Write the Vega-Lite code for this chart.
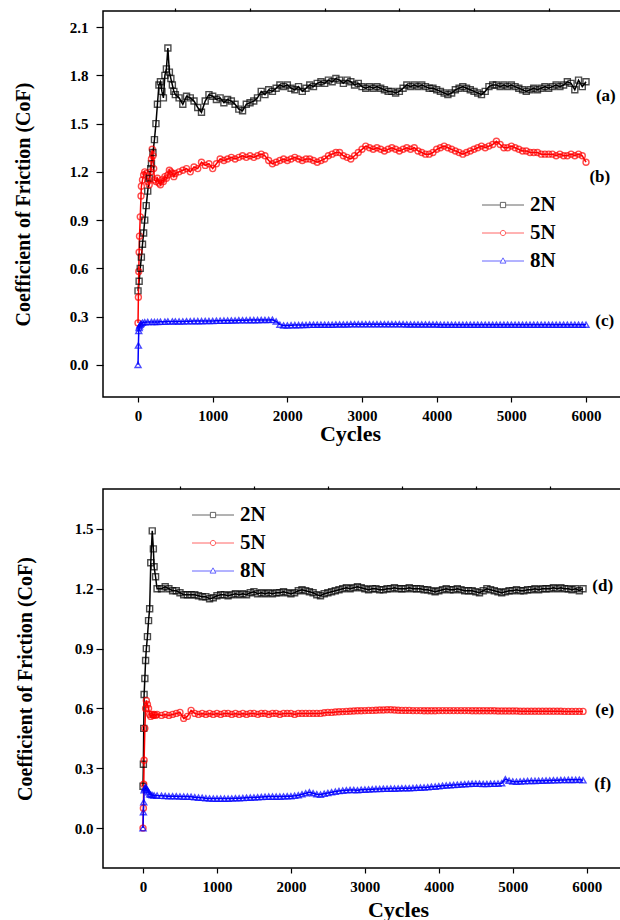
{
  "$schema": "https://vega.github.io/schema/vega-lite/v6.json",
  "padding": {"left": 12, "top": 6, "right": 0, "bottom": 0},
  "spacing": 39,
  "resolve": {"scale": {"opacity": "independent"}, "legend": {"opacity": "independent"}},
  "config": {
    "view": {"stroke": "#000000", "strokeWidth": 1.5},
    "font": "Liberation Serif",
    "axis": {"domain": false, "grid": false, "tickColor": "#000000", "tickWidth": 1.2, "labelFont": "Liberation Serif", "labelFontWeight": "bold", "labelFontSize": 15, "labelColor": "#000000", "titleFont": "Liberation Serif", "titleFontWeight": "bold", "titleColor": "#000000"},
    "legend": {"padding": 0, "labelFont": "Liberation Serif", "labelFontWeight": "bold", "labelFontSize": 21, "labelColor": "#000000", "symbolSize": 441, "labelOffset": 16, "rowPadding": 7, "symbolStrokeWidth": 1, "symbolFillColor": "transparent", "symbolOpacity": 1}
  },
  "datasets": {
    "top": [
      {"x":0,"2N":0.46,"5N":0.26,"8N":0.0},
      {"x":5,"5N":0.42,"8N":0.12},
      {"x":10,"5N":0.58,"8N":0.21},
      {"x":15,"2N":0.52,"5N":0.7,"8N":0.23},
      {"x":20,"5N":0.8,"8N":0.24},
      {"x":30,"2N":0.6,"5N":0.92,"8N":0.25},
      {"x":40,"5N":1.05,"8N":0.255},
      {"x":45,"2N":0.67,"5N":1.11},
      {"x":60,"2N":0.75,"5N":1.15,"8N":0.262},
      {"x":75,"2N":0.82,"5N":1.18},
      {"x":90,"2N":0.9,"5N":1.2,"8N":0.265},
      {"x":110,"2N":0.99,"5N":1.19},
      {"x":130,"2N":1.08,"5N":1.14,"8N":0.266},
      {"x":150,"2N":1.16,"5N":1.12},
      {"x":170,"2N":1.22,"5N":1.2},
      {"x":180,"2N":1.25,"5N":1.28,"8N":0.267},
      {"x":190,"5N":1.34},
      {"x":200,"2N":1.32,"5N":1.3},
      {"x":210,"5N":1.22},
      {"x":220,"2N":1.4,"5N":1.15,"8N":0.266},
      {"x":240,"2N":1.5,"5N":1.14},
      {"x":260,"2N":1.62,"5N":1.16,"8N":0.267},
      {"x":280,"2N":1.74,"5N":1.13},
      {"x":300,"2N":1.76,"5N":1.12,"8N":0.268},
      {"x":320,"2N":1.7,"5N":1.15},
      {"x":340,"2N":1.66,"5N":1.14},
      {"x":360,"2N":1.8,"5N":1.17,"8N":0.268},
      {"x":380,"2N":1.84,"5N":1.16},
      {"x":400,"2N":1.97,"5N":1.18,"8N":0.27},
      {"x":420,"2N":1.82,"5N":1.21},
      {"x":440,"2N":1.78,"5N":1.2},
      {"x":460,"2N":1.74,"5N":1.19,"8N":0.27},
      {"x":480,"2N":1.7,"5N":1.17},
      {"x":500,"2N":1.68,"5N":1.19,"8N":0.27},
      {"x":550,"2N":1.66,"5N":1.2,"8N":0.27},
      {"x":600,"2N":1.62,"5N":1.21,"8N":0.27},
      {"x":650,"2N":1.67,"5N":1.22,"8N":0.271},
      {"x":700,"2N":1.66,"5N":1.2,"8N":0.271},
      {"x":750,"2N":1.64,"5N":1.23,"8N":0.272},
      {"x":800,"2N":1.6,"5N":1.22,"8N":0.272},
      {"x":850,"2N":1.57,"5N":1.26,"8N":0.272},
      {"x":900,"2N":1.64,"5N":1.24,"8N":0.273},
      {"x":950,"2N":1.68,"5N":1.25,"8N":0.273},
      {"x":1000,"2N":1.67,"5N":1.22,"8N":0.273},
      {"x":1050,"2N":1.65,"5N":1.25,"8N":0.274},
      {"x":1100,"2N":1.66,"5N":1.28,"8N":0.274},
      {"x":1150,"2N":1.63,"5N":1.27,"8N":0.275},
      {"x":1200,"2N":1.65,"5N":1.28,"8N":0.275},
      {"x":1250,"2N":1.64,"5N":1.29,"8N":0.276},
      {"x":1300,"2N":1.62,"5N":1.28,"8N":0.276},
      {"x":1350,"2N":1.59,"5N":1.29,"8N":0.277},
      {"x":1400,"2N":1.58,"5N":1.3,"8N":0.277},
      {"x":1450,"2N":1.62,"5N":1.29,"8N":0.277},
      {"x":1500,"2N":1.63,"5N":1.3,"8N":0.278},
      {"x":1550,"2N":1.64,"5N":1.29,"8N":0.278},
      {"x":1600,"2N":1.66,"5N":1.3,"8N":0.278},
      {"x":1650,"2N":1.7,"5N":1.31,"8N":0.279},
      {"x":1700,"2N":1.68,"5N":1.3,"8N":0.279},
      {"x":1750,"2N":1.71,"5N":1.27,"8N":0.279},
      {"x":1800,"2N":1.7,"5N":1.25,"8N":0.28},
      {"x":1850,"2N":1.72,"5N":1.26,"8N":0.27},
      {"x":1900,"2N":1.74,"5N":1.27,"8N":0.25},
      {"x":1950,"2N":1.73,"5N":1.28,"8N":0.245},
      {"x":2000,"2N":1.74,"5N":1.27,"8N":0.245},
      {"x":2050,"2N":1.72,"5N":1.28,"8N":0.246},
      {"x":2100,"2N":1.71,"5N":1.29,"8N":0.247},
      {"x":2150,"2N":1.73,"5N":1.28,"8N":0.247},
      {"x":2200,"2N":1.7,"5N":1.27,"8N":0.248},
      {"x":2250,"2N":1.72,"5N":1.28,"8N":0.248},
      {"x":2300,"2N":1.74,"5N":1.28,"8N":0.249},
      {"x":2350,"2N":1.73,"5N":1.27,"8N":0.249},
      {"x":2400,"2N":1.75,"5N":1.26,"8N":0.25},
      {"x":2450,"2N":1.76,"5N":1.27,"8N":0.25},
      {"x":2500,"2N":1.75,"5N":1.28,"8N":0.25},
      {"x":2550,"2N":1.77,"5N":1.3,"8N":0.25},
      {"x":2600,"2N":1.76,"5N":1.31,"8N":0.25},
      {"x":2650,"2N":1.78,"5N":1.32,"8N":0.251},
      {"x":2700,"2N":1.77,"5N":1.32,"8N":0.251},
      {"x":2750,"2N":1.75,"5N":1.3,"8N":0.251},
      {"x":2800,"2N":1.77,"5N":1.29,"8N":0.251},
      {"x":2850,"2N":1.76,"5N":1.28,"8N":0.252},
      {"x":2900,"2N":1.74,"5N":1.3,"8N":0.252},
      {"x":2950,"2N":1.75,"5N":1.32,"8N":0.252},
      {"x":3000,"2N":1.73,"5N":1.34,"8N":0.252},
      {"x":3050,"2N":1.72,"5N":1.36,"8N":0.252},
      {"x":3100,"2N":1.73,"5N":1.35,"8N":0.252},
      {"x":3150,"2N":1.72,"5N":1.34,"8N":0.252},
      {"x":3200,"2N":1.73,"5N":1.35,"8N":0.252},
      {"x":3250,"2N":1.72,"5N":1.34,"8N":0.252},
      {"x":3300,"2N":1.71,"5N":1.33,"8N":0.252},
      {"x":3350,"2N":1.7,"5N":1.34,"8N":0.252},
      {"x":3400,"2N":1.7,"5N":1.35,"8N":0.252},
      {"x":3450,"2N":1.69,"5N":1.34,"8N":0.252},
      {"x":3500,"2N":1.7,"5N":1.33,"8N":0.252},
      {"x":3550,"2N":1.72,"5N":1.34,"8N":0.252},
      {"x":3600,"2N":1.74,"5N":1.35,"8N":0.251},
      {"x":3650,"2N":1.73,"5N":1.34,"8N":0.251},
      {"x":3700,"2N":1.74,"5N":1.35,"8N":0.251},
      {"x":3750,"2N":1.73,"5N":1.33,"8N":0.251},
      {"x":3800,"2N":1.74,"5N":1.32,"8N":0.251},
      {"x":3850,"2N":1.73,"5N":1.31,"8N":0.251},
      {"x":3900,"2N":1.72,"5N":1.31,"8N":0.251},
      {"x":3950,"2N":1.72,"5N":1.32,"8N":0.251},
      {"x":4000,"2N":1.71,"5N":1.34,"8N":0.251},
      {"x":4050,"2N":1.7,"5N":1.35,"8N":0.25},
      {"x":4100,"2N":1.69,"5N":1.36,"8N":0.25},
      {"x":4150,"2N":1.68,"5N":1.35,"8N":0.25},
      {"x":4200,"2N":1.69,"5N":1.34,"8N":0.25},
      {"x":4250,"2N":1.71,"5N":1.33,"8N":0.25},
      {"x":4300,"2N":1.72,"5N":1.32,"8N":0.25},
      {"x":4350,"2N":1.73,"5N":1.31,"8N":0.25},
      {"x":4400,"2N":1.72,"5N":1.32,"8N":0.25},
      {"x":4450,"2N":1.71,"5N":1.33,"8N":0.25},
      {"x":4500,"2N":1.7,"5N":1.34,"8N":0.25},
      {"x":4550,"2N":1.69,"5N":1.35,"8N":0.25},
      {"x":4600,"2N":1.68,"5N":1.36,"8N":0.25},
      {"x":4650,"2N":1.7,"5N":1.35,"8N":0.25},
      {"x":4700,"2N":1.73,"5N":1.36,"8N":0.25},
      {"x":4750,"2N":1.74,"5N":1.37,"8N":0.25},
      {"x":4800,"2N":1.74,"5N":1.39,"8N":0.25},
      {"x":4850,"2N":1.73,"5N":1.37,"8N":0.25},
      {"x":4900,"2N":1.74,"5N":1.35,"8N":0.25},
      {"x":4950,"2N":1.73,"5N":1.35,"8N":0.25},
      {"x":5000,"2N":1.74,"5N":1.36,"8N":0.25},
      {"x":5050,"2N":1.73,"5N":1.35,"8N":0.25},
      {"x":5100,"2N":1.72,"5N":1.34,"8N":0.25},
      {"x":5150,"2N":1.71,"5N":1.33,"8N":0.25},
      {"x":5200,"2N":1.7,"5N":1.33,"8N":0.25},
      {"x":5250,"2N":1.71,"5N":1.32,"8N":0.25},
      {"x":5300,"2N":1.72,"5N":1.32,"8N":0.25},
      {"x":5350,"2N":1.71,"5N":1.32,"8N":0.25},
      {"x":5400,"2N":1.72,"5N":1.31,"8N":0.25},
      {"x":5450,"2N":1.73,"5N":1.31,"8N":0.25},
      {"x":5500,"2N":1.72,"5N":1.31,"8N":0.25},
      {"x":5550,"2N":1.73,"5N":1.31,"8N":0.25},
      {"x":5600,"2N":1.74,"5N":1.3,"8N":0.25},
      {"x":5650,"2N":1.73,"5N":1.31,"8N":0.25},
      {"x":5700,"2N":1.74,"5N":1.3,"8N":0.25},
      {"x":5750,"2N":1.76,"5N":1.3,"8N":0.25},
      {"x":5800,"2N":1.75,"5N":1.31,"8N":0.25},
      {"x":5850,"2N":1.71,"5N":1.3,"8N":0.25},
      {"x":5900,"2N":1.77,"5N":1.31,"8N":0.25},
      {"x":5950,"2N":1.73,"5N":1.3,"8N":0.25},
      {"x":6000,"2N":1.76,"5N":1.26,"8N":0.25}
    ],
    "bottom": [
      {"x":0,"2N":0.21,"5N":0.0,"8N":0.0},
      {"x":5,"2N":0.32,"5N":0.1,"8N":0.08},
      {"x":10,"2N":0.5,"5N":0.22,"8N":0.13},
      {"x":15,"2N":0.67,"5N":0.34,"8N":0.19},
      {"x":25,"2N":0.75,"5N":0.5,"8N":0.2},
      {"x":35,"2N":0.84,"5N":0.6,"8N":0.205},
      {"x":45,"2N":0.9,"5N":0.64,"8N":0.2},
      {"x":60,"2N":0.96,"5N":0.62,"8N":0.19},
      {"x":75,"2N":1.04,"5N":0.6,"8N":0.18},
      {"x":90,"2N":1.1,"5N":0.57,"8N":0.17},
      {"x":105,"2N":1.33,"5N":0.56,"8N":0.168},
      {"x":125,"2N":1.49,"5N":0.57,"8N":0.165},
      {"x":140,"2N":1.4,"5N":0.565},
      {"x":150,"2N":1.31,"5N":0.57,"8N":0.164},
      {"x":170,"2N":1.26,"5N":0.565},
      {"x":190,"2N":1.2,"5N":0.57,"8N":0.163},
      {"x":250,"2N":1.2,"5N":0.565,"8N":0.162},
      {"x":300,"2N":1.21,"5N":0.57,"8N":0.161},
      {"x":350,"2N":1.2,"5N":0.565,"8N":0.16},
      {"x":400,"2N":1.19,"5N":0.57,"8N":0.16},
      {"x":450,"2N":1.19,"5N":0.575,"8N":0.16},
      {"x":500,"2N":1.18,"5N":0.58,"8N":0.159},
      {"x":550,"2N":1.17,"5N":0.55,"8N":0.158},
      {"x":600,"2N":1.17,"5N":0.56,"8N":0.158},
      {"x":650,"2N":1.17,"5N":0.59,"8N":0.157},
      {"x":700,"2N":1.17,"5N":0.575,"8N":0.155},
      {"x":750,"2N":1.165,"5N":0.57,"8N":0.153},
      {"x":800,"2N":1.16,"5N":0.575,"8N":0.152},
      {"x":850,"2N":1.16,"5N":0.57,"8N":0.15},
      {"x":900,"2N":1.15,"5N":0.575,"8N":0.149},
      {"x":950,"2N":1.155,"5N":0.57,"8N":0.148},
      {"x":1000,"2N":1.165,"5N":0.575,"8N":0.148},
      {"x":1050,"2N":1.17,"5N":0.57,"8N":0.148},
      {"x":1100,"2N":1.17,"5N":0.575,"8N":0.148},
      {"x":1150,"2N":1.165,"5N":0.575,"8N":0.148},
      {"x":1200,"2N":1.17,"5N":0.57,"8N":0.149},
      {"x":1250,"2N":1.175,"5N":0.575,"8N":0.15},
      {"x":1300,"2N":1.17,"5N":0.57,"8N":0.15},
      {"x":1350,"2N":1.175,"5N":0.575,"8N":0.151},
      {"x":1400,"2N":1.17,"5N":0.57,"8N":0.152},
      {"x":1450,"2N":1.18,"5N":0.575,"8N":0.153},
      {"x":1500,"2N":1.185,"5N":0.575,"8N":0.154},
      {"x":1550,"2N":1.175,"5N":0.57,"8N":0.155},
      {"x":1600,"2N":1.18,"5N":0.575,"8N":0.156},
      {"x":1650,"2N":1.175,"5N":0.575,"8N":0.157},
      {"x":1700,"2N":1.18,"5N":0.57,"8N":0.158},
      {"x":1750,"2N":1.175,"5N":0.575,"8N":0.158},
      {"x":1800,"2N":1.18,"5N":0.575,"8N":0.158},
      {"x":1850,"2N":1.18,"5N":0.57,"8N":0.158},
      {"x":1900,"2N":1.185,"5N":0.575,"8N":0.159},
      {"x":1950,"2N":1.18,"5N":0.575,"8N":0.16},
      {"x":2000,"2N":1.175,"5N":0.575,"8N":0.16},
      {"x":2050,"2N":1.18,"5N":0.57,"8N":0.162},
      {"x":2100,"2N":1.19,"5N":0.575,"8N":0.165},
      {"x":2150,"2N":1.195,"5N":0.575,"8N":0.17},
      {"x":2200,"2N":1.19,"5N":0.575,"8N":0.175},
      {"x":2250,"2N":1.185,"5N":0.575,"8N":0.18},
      {"x":2300,"2N":1.18,"5N":0.575,"8N":0.175},
      {"x":2350,"2N":1.17,"5N":0.575,"8N":0.17},
      {"x":2400,"2N":1.165,"5N":0.575,"8N":0.168},
      {"x":2450,"2N":1.175,"5N":0.578,"8N":0.172},
      {"x":2500,"2N":1.18,"5N":0.58,"8N":0.176},
      {"x":2550,"2N":1.185,"5N":0.58,"8N":0.18},
      {"x":2600,"2N":1.19,"5N":0.582,"8N":0.183},
      {"x":2650,"2N":1.195,"5N":0.583,"8N":0.186},
      {"x":2700,"2N":1.2,"5N":0.584,"8N":0.188},
      {"x":2750,"2N":1.205,"5N":0.585,"8N":0.19},
      {"x":2800,"2N":1.2,"5N":0.586,"8N":0.191},
      {"x":2850,"2N":1.205,"5N":0.587,"8N":0.191},
      {"x":2900,"2N":1.21,"5N":0.588,"8N":0.19},
      {"x":2950,"2N":1.205,"5N":0.588,"8N":0.192},
      {"x":3000,"2N":1.2,"5N":0.589,"8N":0.193},
      {"x":3050,"2N":1.195,"5N":0.59,"8N":0.194},
      {"x":3100,"2N":1.2,"5N":0.59,"8N":0.195},
      {"x":3150,"2N":1.2,"5N":0.591,"8N":0.196},
      {"x":3200,"2N":1.195,"5N":0.592,"8N":0.196},
      {"x":3250,"2N":1.195,"5N":0.592,"8N":0.197},
      {"x":3300,"2N":1.2,"5N":0.593,"8N":0.197},
      {"x":3350,"2N":1.2,"5N":0.593,"8N":0.198},
      {"x":3400,"2N":1.205,"5N":0.592,"8N":0.198},
      {"x":3450,"2N":1.2,"5N":0.591,"8N":0.199},
      {"x":3500,"2N":1.2,"5N":0.59,"8N":0.2},
      {"x":3550,"2N":1.2,"5N":0.59,"8N":0.2},
      {"x":3600,"2N":1.205,"5N":0.59,"8N":0.2},
      {"x":3650,"2N":1.2,"5N":0.589,"8N":0.201},
      {"x":3700,"2N":1.2,"5N":0.589,"8N":0.202},
      {"x":3750,"2N":1.2,"5N":0.589,"8N":0.203},
      {"x":3800,"2N":1.195,"5N":0.588,"8N":0.204},
      {"x":3850,"2N":1.195,"5N":0.588,"8N":0.205},
      {"x":3900,"2N":1.19,"5N":0.588,"8N":0.207},
      {"x":3950,"2N":1.185,"5N":0.588,"8N":0.208},
      {"x":4000,"2N":1.19,"5N":0.589,"8N":0.21},
      {"x":4050,"2N":1.195,"5N":0.589,"8N":0.212},
      {"x":4100,"2N":1.2,"5N":0.589,"8N":0.214},
      {"x":4150,"2N":1.195,"5N":0.589,"8N":0.215},
      {"x":4200,"2N":1.195,"5N":0.589,"8N":0.216},
      {"x":4250,"2N":1.2,"5N":0.589,"8N":0.217},
      {"x":4300,"2N":1.195,"5N":0.589,"8N":0.219},
      {"x":4350,"2N":1.19,"5N":0.589,"8N":0.22},
      {"x":4400,"2N":1.19,"5N":0.589,"8N":0.221},
      {"x":4450,"2N":1.19,"5N":0.588,"8N":0.222},
      {"x":4500,"2N":1.185,"5N":0.588,"8N":0.222},
      {"x":4550,"2N":1.18,"5N":0.588,"8N":0.222},
      {"x":4600,"2N":1.19,"5N":0.588,"8N":0.221},
      {"x":4650,"2N":1.2,"5N":0.588,"8N":0.221},
      {"x":4700,"2N":1.195,"5N":0.588,"8N":0.222},
      {"x":4750,"2N":1.19,"5N":0.588,"8N":0.222},
      {"x":4800,"2N":1.185,"5N":0.587,"8N":0.223},
      {"x":4850,"2N":1.18,"5N":0.587,"8N":0.225},
      {"x":4900,"2N":1.185,"5N":0.587,"8N":0.245},
      {"x":4950,"2N":1.19,"5N":0.587,"8N":0.238},
      {"x":5000,"2N":1.19,"5N":0.587,"8N":0.234},
      {"x":5050,"2N":1.195,"5N":0.587,"8N":0.233},
      {"x":5100,"2N":1.19,"5N":0.586,"8N":0.234},
      {"x":5150,"2N":1.19,"5N":0.586,"8N":0.235},
      {"x":5200,"2N":1.195,"5N":0.586,"8N":0.236},
      {"x":5250,"2N":1.195,"5N":0.586,"8N":0.237},
      {"x":5300,"2N":1.2,"5N":0.586,"8N":0.237},
      {"x":5350,"2N":1.195,"5N":0.586,"8N":0.238},
      {"x":5400,"2N":1.2,"5N":0.586,"8N":0.238},
      {"x":5450,"2N":1.2,"5N":0.586,"8N":0.239},
      {"x":5500,"2N":1.2,"5N":0.586,"8N":0.239},
      {"x":5550,"2N":1.205,"5N":0.586,"8N":0.24},
      {"x":5600,"2N":1.2,"5N":0.586,"8N":0.24},
      {"x":5650,"2N":1.205,"5N":0.586,"8N":0.241},
      {"x":5700,"2N":1.2,"5N":0.585,"8N":0.241},
      {"x":5750,"2N":1.2,"5N":0.585,"8N":0.242},
      {"x":5800,"2N":1.195,"5N":0.585,"8N":0.242},
      {"x":5850,"2N":1.2,"5N":0.585,"8N":0.242},
      {"x":5900,"2N":1.19,"5N":0.585,"8N":0.243},
      {"x":5950,"2N":1.2,"5N":0.585,"8N":0.24}
    ],
    "labelsTop": [
      {"x": 6265, "y": 1.67, "t": "(a)"},
      {"x": 6185, "y": 1.17, "t": "(b)"},
      {"x": 6250, "y": 0.27, "t": "(c)"}
    ],
    "labelsBottom": [
      {"x": 6216, "y": 1.216, "t": "(d)"},
      {"x": 6243, "y": 0.59, "t": "(e)"},
      {"x": 6216, "y": 0.22, "t": "(f)"}
    ]
  },
  "vconcat": [
    {
      "width": 519,
      "height": 386,
      "resolve": {"axis": {"x": "independent", "y": "independent"}},
      "layer": [
        {
          "data": {"name": "top"},
          "transform": [{"fold": ["2N", "5N", "8N"], "as": ["load", "cof"]}, {"filter": "isValid(datum.cof)"}],
          "mark": {"type": "line", "strokeWidth": 1.5},
          "encoding": {
            "x": {"field": "x", "type": "quantitative", "scale": {"domain": [-469, 6482], "nice": false, "zero": false}, "axis": {"values": [0, 1000, 2000, 3000, 4000, 5000, 6000], "format": "d", "tickSize": 5, "labelPadding": 6, "title": "Cycles", "titleFontSize": 22, "titlePadding": 0, "titleX": 247}},
            "y": {"field": "cof", "type": "quantitative", "scale": {"domain": [-0.2, 2.2], "nice": false, "zero": false}, "axis": {"values": [0, 0.3, 0.6, 0.9, 1.2, 1.5, 1.8, 2.1], "format": ".1f", "tickSize": 7, "labelPadding": 8, "title": "Coefficient of Friction (CoF)", "titleFontSize": 20, "titlePadding": 36}},
            "color": {"field": "load", "type": "nominal", "scale": {"range": ["#000000", "#ff0000", "#0000ff"]}, "legend": null}
          }
        },
        {
          "data": {"name": "top"},
          "transform": [{"fold": ["2N", "5N", "8N"], "as": ["load", "cof"]}, {"filter": "isValid(datum.cof)"}],
          "mark": {"type": "point", "filled": false, "size": 36, "strokeWidth": 1.4},
          "encoding": {
            "x": {"field": "x", "type": "quantitative", "scale": {"domain": [-469, 6482], "nice": false, "zero": false}, "axis": {"values": [500, 1500, 2500, 3500, 4500, 5500], "labels": false, "tickSize": 3, "title": null}},
            "y": {"field": "cof", "type": "quantitative", "scale": {"domain": [-0.2, 2.2], "nice": false, "zero": false}, "axis": {"values": [-0.15, 0.15, 0.45, 0.75, 1.05, 1.35, 1.65, 1.95], "labels": false, "tickSize": 4, "title": null}},
            "color": {"field": "load", "type": "nominal", "scale": {"range": ["#000000", "#ff0000", "#0000ff"]}, "legend": null},
            "shape": {"field": "load", "type": "nominal", "scale": {"range": ["square", "circle", "triangle-up"]}, "legend": null}
          }
        },
        {
          "data": {"name": "top"},
          "transform": [{"fold": ["2N", "5N", "8N"], "as": ["load", "cof"]}, {"filter": "false"}],
          "mark": {"type": "point", "filled": false, "strokeWidth": 1, "color": {"expr": "datum.value === '2N' ? '#666666' : datum.value === '5N' ? '#ff6666' : '#6666ff'"}},
          "encoding": {
            "x": {"field": "x", "type": "quantitative", "scale": {"domain": [-469, 6482], "nice": false, "zero": false}, "axis": null},
            "y": {"field": "cof", "type": "quantitative", "scale": {"domain": [-0.2, 2.2], "nice": false, "zero": false}, "axis": null},
            "opacity": {"field": "load", "type": "ordinal", "scale": {"domain": ["2N", "5N", "8N"], "range": [1, 1, 1]},
              "legend": {"title": null, "orient": "none", "legendX": 389, "legendY": 183,
                "symbolType": {"expr": "datum.value === '2N' ? 'M-2,0H-0.25M0.25,0H2M-0.25,-0.25H0.25V0.25H-0.25Z' : datum.value === '5N' ? 'M-2,0H-0.25M0.25,0H2M-0.25,0A0.25,0.25 0 1,0 0.25,0A0.25,0.25 0 1,0 -0.25,0' : 'M-2,0H-0.17M0.17,0H2M-0.28,0.2L0,-0.3L0.28,0.2Z'"},
                "symbolStrokeColor": {"expr": "datum.value === '2N' ? '#666666' : datum.value === '5N' ? '#ff6666' : '#6666ff'"}
              }}
          }
        },
        {
          "data": {"name": "labelsTop"},
          "mark": {"type": "text", "font": "Liberation Serif", "fontWeight": "bold", "fontSize": 17, "align": "center", "baseline": "middle", "color": "#000000"},
          "encoding": {
            "x": {"field": "x", "type": "quantitative", "scale": {"domain": [-469, 6482], "nice": false, "zero": false}, "axis": null},
            "y": {"field": "y", "type": "quantitative", "scale": {"domain": [-0.2, 2.2], "nice": false, "zero": false}, "axis": null},
            "text": {"field": "t"}
          }
        }
      ]
    },
    {
      "width": 519,
      "height": 379,
      "resolve": {"axis": {"x": "independent", "y": "independent"}},
      "layer": [
        {
          "data": {"name": "bottom"},
          "transform": [{"fold": ["2N", "5N", "8N"], "as": ["load", "cof"]}, {"filter": "isValid(datum.cof)"}],
          "mark": {"type": "line", "strokeWidth": 1.5},
          "encoding": {
            "x": {"field": "x", "type": "quantitative", "scale": {"domain": [-541, 6477], "nice": false, "zero": false}, "axis": {"values": [0, 1000, 2000, 3000, 4000, 5000, 6000], "format": "d", "tickSize": 5, "labelPadding": 6, "title": "Cycles", "titleFontSize": 22, "titlePadding": 5, "titleX": 295}},
            "y": {"field": "cof", "type": "quantitative", "scale": {"domain": [-0.2, 1.7], "nice": false, "zero": false}, "axis": {"values": [0, 0.3, 0.6, 0.9, 1.2, 1.5], "format": ".1f", "tickSize": 7, "labelPadding": 3, "title": "Coefficient of Friction (CoF)", "titleFontSize": 20, "titlePadding": 39}},
            "color": {"field": "load", "type": "nominal", "scale": {"range": ["#000000", "#ff0000", "#0000ff"]}, "legend": null}
          }
        },
        {
          "data": {"name": "bottom"},
          "transform": [{"fold": ["2N", "5N", "8N"], "as": ["load", "cof"]}, {"filter": "isValid(datum.cof)"}],
          "mark": {"type": "point", "filled": false, "size": 36, "strokeWidth": 1.4},
          "encoding": {
            "x": {"field": "x", "type": "quantitative", "scale": {"domain": [-541, 6477], "nice": false, "zero": false}, "axis": {"values": [500, 1500, 2500, 3500, 4500, 5500], "labels": false, "tickSize": 3, "title": null}},
            "y": {"field": "cof", "type": "quantitative", "scale": {"domain": [-0.2, 1.7], "nice": false, "zero": false}, "axis": {"values": [-0.15, 0.15, 0.45, 0.75, 1.05, 1.35, 1.65], "labels": false, "tickSize": 4, "title": null}},
            "color": {"field": "load", "type": "nominal", "scale": {"range": ["#000000", "#ff0000", "#0000ff"]}, "legend": null},
            "shape": {"field": "load", "type": "nominal", "scale": {"range": ["square", "circle", "triangle-up"]}, "legend": null}
          }
        },
        {
          "data": {"name": "bottom"},
          "transform": [{"fold": ["2N", "5N", "8N"], "as": ["load", "cof"]}, {"filter": "false"}],
          "mark": {"type": "point", "filled": false, "strokeWidth": 1, "color": {"expr": "datum.value === '2N' ? '#666666' : datum.value === '5N' ? '#ff6666' : '#6666ff'"}},
          "encoding": {
            "x": {"field": "x", "type": "quantitative", "scale": {"domain": [-541, 6477], "nice": false, "zero": false}, "axis": null},
            "y": {"field": "cof", "type": "quantitative", "scale": {"domain": [-0.2, 1.7], "nice": false, "zero": false}, "axis": null},
            "opacity": {"field": "load", "type": "ordinal", "scale": {"domain": ["2N", "5N", "8N"], "range": [1, 1, 1]},
              "legend": {"title": null, "orient": "none", "legendX": 99, "legendY": 15,
                "symbolType": {"expr": "datum.value === '2N' ? 'M-2,0H-0.25M0.25,0H2M-0.25,-0.25H0.25V0.25H-0.25Z' : datum.value === '5N' ? 'M-2,0H-0.25M0.25,0H2M-0.25,0A0.25,0.25 0 1,0 0.25,0A0.25,0.25 0 1,0 -0.25,0' : 'M-2,0H-0.17M0.17,0H2M-0.28,0.2L0,-0.3L0.28,0.2Z'"},
                "symbolStrokeColor": {"expr": "datum.value === '2N' ? '#666666' : datum.value === '5N' ? '#ff6666' : '#6666ff'"}
              }}
          }
        },
        {
          "data": {"name": "labelsBottom"},
          "mark": {"type": "text", "font": "Liberation Serif", "fontWeight": "bold", "fontSize": 17, "align": "center", "baseline": "middle", "color": "#000000"},
          "encoding": {
            "x": {"field": "x", "type": "quantitative", "scale": {"domain": [-541, 6477], "nice": false, "zero": false}, "axis": null},
            "y": {"field": "y", "type": "quantitative", "scale": {"domain": [-0.2, 1.7], "nice": false, "zero": false}, "axis": null},
            "text": {"field": "t"}
          }
        }
      ]
    }
  ]
}
